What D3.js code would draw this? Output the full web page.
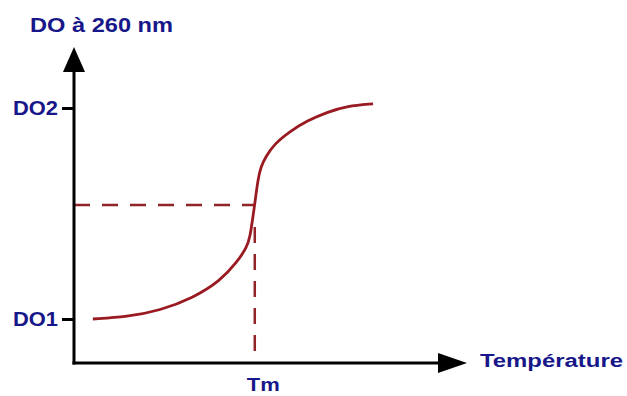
<!DOCTYPE html>
<html>
<head>
<meta charset="utf-8">
<script src="https://cdn.jsdelivr.net/npm/d3@7"></script>
<style>
  body { margin: 0; background: #fff; }
  svg text { font-family: "Liberation Sans", Arial, sans-serif; font-weight: bold; fill: #17178a; }
</style>
</head>
<body>
<div id="chart"></div>
<script>
// Data
const tempValues = [4.8, 13.5, 21.9, 30.3, 37.2, 41.5, 44.0, 44.8, 45.5, 46.1, 46.8, 47.5, 48.8, 51.0, 55.0, 59.3, 64.4, 69.5, 76.1];
const odValues   = [1.00, 1.01, 1.04, 1.10, 1.18, 1.27, 1.34, 1.39, 1.48, 1.56, 1.66, 1.72, 1.77, 1.83, 1.89, 1.94, 1.98, 2.01, 2.02];
const yTickValues = [1, 2];
const yTickLabels = ["DO1", "DO2"];
const tm = 46;
const odMid = 1.54;

const width = 627, height = 396;

const svg = d3.select("#chart")
  .append("svg")
  .attr("width", width)
  .attr("height", height);

const x = d3.scaleLinear().domain([0, 100]).range([74, 467]);
const y = d3.scaleLinear().domain([1, 2]).range([319, 108]);
const xMin = 0, xMax = 100;
const yMin = y.invert(363), yMax = y.invert(47);

const darkRed = "#9a1a22";

// Dashed guides at Tm
svg.append("line")
  .attr("x1", x(xMin)).attr("x2", x(tm))
  .attr("y1", y(odMid)).attr("y2", y(odMid))
  .attr("stroke", "#922428").attr("stroke-width", 2.5)
  .attr("stroke-dasharray", "16,12");

svg.append("line")
  .attr("x1", x(tm)).attr("x2", x(tm))
  .attr("y1", y(odMid) + 22).attr("y2", y(yMin))
  .attr("stroke", "#922428").attr("stroke-width", 2.5)
  .attr("stroke-dasharray", "16,11");

// Curve
const line = d3.line()
  .x(d => x(d[0]))
  .y(d => y(d[1]))
  .curve(d3.curveBasis);

svg.append("path")
  .datum(tempValues.map((t, i) => [t, odValues[i]]))
  .attr("fill", "none")
  .attr("stroke", darkRed)
  .attr("stroke-width", 2.8)
  .attr("d", line);

// Axes lines with arrows
svg.append("line")
  .attr("x1", x(xMin)).attr("x2", x(xMin))
  .attr("y1", y(yMin) + 1.5).attr("y2", y(yMax) + 20)
  .attr("stroke", "#000").attr("stroke-width", 3);

svg.append("line")
  .attr("x1", x(xMin) - 1.5).attr("x2", x(xMax) - 20)
  .attr("y1", y(yMin)).attr("y2", y(yMin))
  .attr("stroke", "#000").attr("stroke-width", 3);

svg.append("path")
  .attr("d", `M${x(xMin)},${y(yMax)} L${x(xMin) - 11},${y(yMax) + 25} L${x(xMin) + 11},${y(yMax) + 25} Z`)
  .attr("fill", "#000");

svg.append("path")
  .attr("d", `M${x(xMax)},${y(yMin)} L${x(xMax) - 29},${y(yMin) - 10} L${x(xMax) - 29},${y(yMin) + 10} Z`)
  .attr("fill", "#000");

// Y ticks
const yAxis = svg.append("g")
  .attr("transform", `translate(${x(xMin)},0)`)
  .call(d3.axisLeft(y).tickValues(yTickValues).tickSize(12).tickPadding(4)
    .tickFormat((d, i) => yTickLabels[i]));
yAxis.select(".domain").remove();
yAxis.selectAll(".tick line").attr("stroke", "#000").attr("stroke-width", 3);
yAxis.selectAll(".tick text")
  .attr("font-size", 21)
  .attr("font-family", null)
  .attr("fill", null)
  .attr("textLength", 45)
  .attr("lengthAdjust", "spacingAndGlyphs");

// X tick (Tm)
const xAxis = svg.append("g")
  .attr("transform", `translate(0,${y(yMin)})`)
  .call(d3.axisBottom(x).tickValues([tm]).tickSize(0).tickPadding(15)
    .tickFormat(() => "Tm"));
xAxis.select(".domain").remove();
xAxis.selectAll(".tick text")
  .attr("font-size", 19)
  .attr("font-family", null)
  .attr("fill", null)
  .attr("dx", 8)
  .attr("textLength", 33)
  .attr("lengthAdjust", "spacingAndGlyphs");

// Axis titles
svg.append("text")
  .attr("x", 30).attr("y", 32)
  .attr("font-size", 21)
  .attr("textLength", 143)
  .attr("lengthAdjust", "spacingAndGlyphs")
  .text("DO à 260 nm");

svg.append("text")
  .attr("x", 480).attr("y", 367)
  .attr("font-size", 18)
  .attr("textLength", 143)
  .attr("lengthAdjust", "spacingAndGlyphs")
  .text("Température");
</script>
</body>
</html>
